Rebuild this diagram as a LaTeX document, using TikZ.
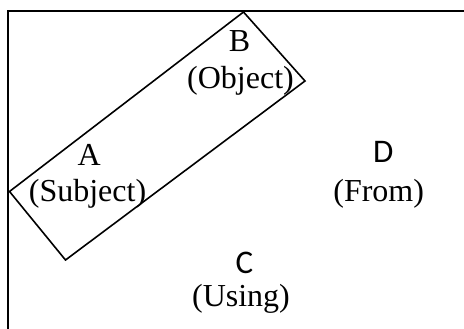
\documentclass[tikz,border=0pt]{standalone}
\usepackage{fontspec}
\setmainfont{Liberation Serif}
\setsansfont{Carlito}
\begin{document}
\begin{tikzpicture}[x=1pt,y=-1pt,
  lbl/.style={font=\fontsize{32}{38}\selectfont, inner sep=0pt, anchor=base},
  slbl/.style={font=\sffamily\fontsize{33}{38}\selectfont, inner sep=0pt, anchor=base},
  frame/.style={line width=1.3pt, draw=black},
  group/.style={line width=1.6pt, draw=black, line join=miter}]
\useasboundingbox (0,0) rectangle (464,329);
\coordinate (tl) at (8,11);
\coordinate (tr) at (464,11);
\coordinate (bl) at (8,329);
\draw[frame] (tr) -- (tl) -- (bl);
% rotated group box
\coordinate (gt) at (243.5,12);
\coordinate (gr) at (305,81);
\coordinate (gb) at (65.5,260);
\coordinate (gl) at (9.5,191.5);
\draw[group] (gt) -- (gr) -- (gb) -- (gl) -- cycle;
% labels
\node[lbl] (B) at (239.5,52) {B};
\node[lbl] (Bo) at (240.5,89) {(Object)};
\node[lbl] (A) at (89.3,165) {A};
\node[lbl] (As) at (87.5,201) {(Subject)};
\node[slbl] (D) at (383.3,163) {D};
\node[lbl] (Df) at (378.7,201) {(From)};
\node[slbl] (C) at (244.3,273) {C};
\node[lbl] (Cu) at (241,306) {(Using)};
\end{tikzpicture}
\end{document}
